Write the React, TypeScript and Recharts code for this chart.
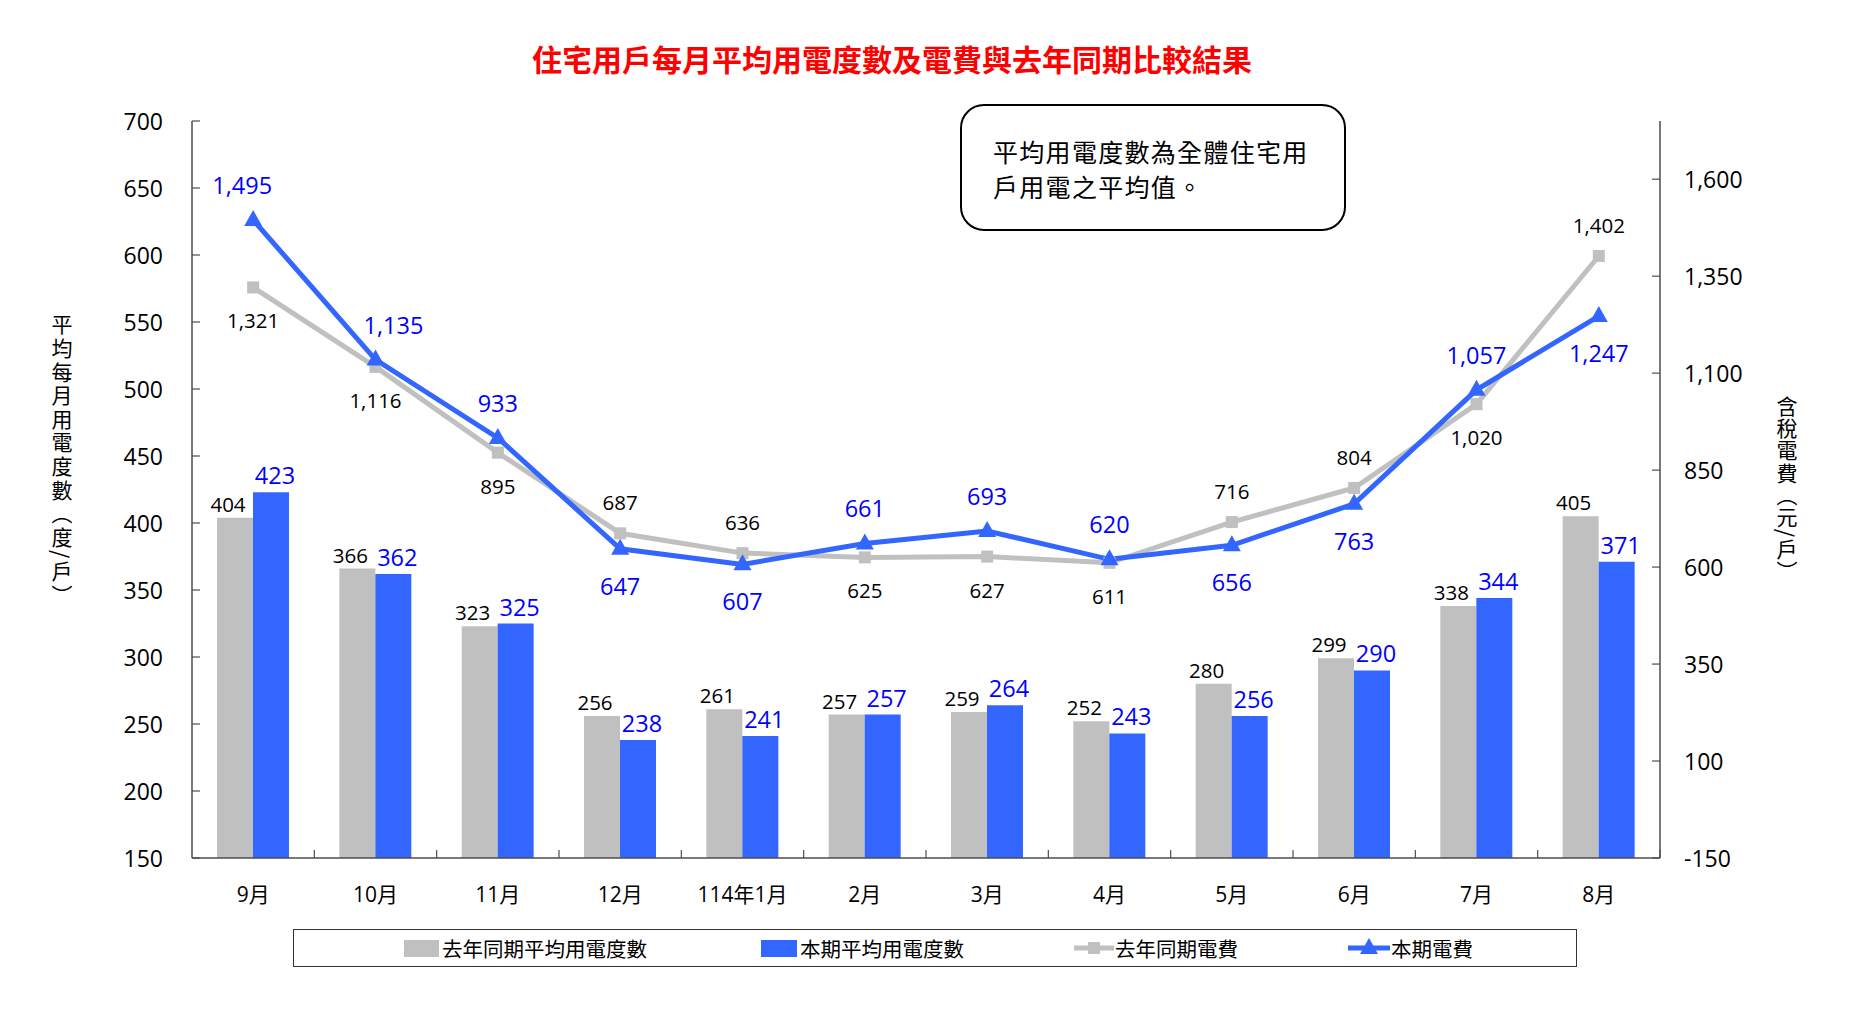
import React from 'react';
import { ComposedChart, Bar, Line, XAxis, YAxis, LabelList, Legend, Label } from 'recharts';

// ---------- data ----------
const months = ['9月', '10月', '11月', '12月', '114年1月', '2月', '3月', '4月', '5月', '6月', '7月', '8月'];
const lastYearKwh = [404, 366, 323, 256, 261, 257, 259, 252, 280, 299, 338, 405];
const thisYearKwh = [423, 362, 325, 238, 241, 257, 264, 243, 256, 290, 344, 371];
const lastYearFee = [1321, 1116, 895, 687, 636, 625, 627, 611, 716, 804, 1020, 1402];
const thisYearFee = [1495, 1135, 933, 647, 607, 661, 693, 620, 656, 763, 1057, 1247];
const leftTicks = [150, 200, 250, 300, 350, 400, 450, 500, 550, 600, 650, 700];
const rightTicks = [-150, 100, 350, 600, 850, 1100, 1350, 1600];
const leftDomain = [150, 700];
const rightDomain = [-150, 1750];

const seriesNames = ['去年同期平均用電度數', '本期平均用電度數', '去年同期電費', '本期電費'];
const titleText = '住宅用戶每月平均用電度數及電費與去年同期比較結果';
const noteLines = ['平均用電度數為全體住宅用', '戶用電之平均值。'];
const leftAxisTitle = '平均每月用電度數（度/戶）';
const rightAxisTitle = '含稅電費（元/戶）';

// label placement (style, not data)
const lastFeeLabelAbove = [false, false, false, true, true, false, false, false, true, true, false, true];
const thisFeeLabelAbove = [true, true, true, false, false, true, true, true, false, false, true, false];
const thisFeeLabelDx = [-11, 18, 0, 0, 0, 0, 0, 0, 0, 0, 0, 0];

const data = months.map((m, i) => ({
  month: m,
  lastKwh: lastYearKwh[i],
  thisKwh: thisYearKwh[i],
  lastFee: lastYearFee[i],
  thisFee: thisYearFee[i],
}));

// ---------- layout ----------
const W = 1860;
const H = 1023;
const PLOT_LEFT = 192;
const PLOT_RIGHT = 1660;
const PLOT_TOP = 121;
const MARGIN_LEFT = 40;
const MARGIN_RIGHT = 40;
const MARGIN_BOTTOM = 56;
const LEGEND_H = 38;
const XAXIS_H = 71;
const BAND = (PLOT_RIGHT - PLOT_LEFT) / months.length;

const FONT = '"Noto Sans CJK TC", "Noto Sans", sans-serif';
const NUM_FONT = '"Open Sans", "Noto Sans CJK TC", sans-serif';
const GREY = '#C0C0C0';
const BLUE = '#3366FF';
const BLUE_TEXT = '#0000FF';
const AXIS = '#4d4d4d';

const fmt = (v: number) => v.toLocaleString('en-US');

const LeftTick = (props: any) => {
  const { x, y, payload } = props;
  const ax = x + 29;
  return (
    <g>
      <line x1={ax} x2={ax + 8} y1={y} y2={y} stroke={AXIS} strokeWidth={1.2} />
      <text x={x} y={y} textAnchor="end" dominantBaseline="central" fontSize={23} fontFamily={NUM_FONT} fill="#000">
        {payload.value}
      </text>
    </g>
  );
};

const RightTick = (props: any) => {
  const { x, y, payload } = props;
  const ax = x - 24;
  return (
    <g>
      <line x1={ax} x2={ax - 8} y1={y} y2={y} stroke={AXIS} strokeWidth={1.2} />
      <text x={x} y={y} textAnchor="start" dominantBaseline="central" fontSize={23} fontFamily={NUM_FONT} fill="#000">
        {fmt(payload.value)}
      </text>
    </g>
  );
};

const BottomTick = (props: any) => {
  const { x, y, payload } = props;
  const ay = y - 36;
  const bx = x + BAND / 2;
  return (
    <g>
      <line x1={bx} x2={bx} y1={ay} y2={ay - 8} stroke={AXIS} strokeWidth={1.2} />
      <text x={x} y={y} textAnchor="middle" dominantBaseline="central" fontSize={21} fontFamily={NUM_FONT} fill="#000">
        {payload.value}
      </text>
    </g>
  );
};

const VerticalTitle = (text: string, dx: number, cy: number, spacing: number) => (props: any) => {
  const vb = props.viewBox || {};
  const cx = (vb.x || 0) + dx;
  return (
    <text
      x={cx}
      y={cy}
      textAnchor="middle"
      fontSize={21}
      fontFamily={FONT}
      fill="#000"
      letterSpacing={spacing}
      style={{ writingMode: 'vertical-rl' as any }}
    >
      {text}
    </text>
  );
};

const greyBarLabel = (props: any) => {
  const { x, y, width, value } = props;
  return (
    <text x={x + width / 2 - 7} y={y - 14} textAnchor="middle" dominantBaseline="central" fontSize={20.5} fontFamily={NUM_FONT} fill="#000">
      {fmt(value)}
    </text>
  );
};

const blueBarLabel = (props: any) => {
  const { x, y, width, value } = props;
  return (
    <text x={x + width / 2 + 4} y={y - 17} textAnchor="middle" dominantBaseline="central" fontSize={23.5} fontFamily={NUM_FONT} fill={BLUE_TEXT}>
      {fmt(value)}
    </text>
  );
};

const greyLineLabel = (props: any) => {
  const { x, y, value, index } = props;
  const above = lastFeeLabelAbove[index];
  return (
    <text x={x} y={above ? y - 31 : y + 33} textAnchor="middle" dominantBaseline="central" fontSize={20.5} fontFamily={NUM_FONT} fill="#000">
      {fmt(value)}
    </text>
  );
};

const blueLineLabel = (props: any) => {
  const { x, y, value, index } = props;
  const above = thisFeeLabelAbove[index];
  return (
    <text
      x={x + thisFeeLabelDx[index]}
      y={above ? y - 35 : y + 37}
      textAnchor="middle"
      dominantBaseline="central"
      fontSize={23.5}
      fontFamily={NUM_FONT}
      fill={BLUE_TEXT}
    >
      {fmt(value)}
    </text>
  );
};

const SquareDot = (props: any) => {
  const { cx, cy } = props;
  if (cx == null || cy == null) return null;
  return <rect x={cx - 6} y={cy - 6} width={12} height={12} fill={GREY} />;
};

const TriangleDot = (props: any) => {
  const { cx, cy } = props;
  if (cx == null || cy == null) return null;
  return <polygon points={`${cx},${cy - 10} ${cx - 9},${cy + 6} ${cx + 9},${cy + 6}`} fill={BLUE} />;
};

const LegendContent = () => {
  const textStyle: React.CSSProperties = {
    position: 'absolute',
    top: 0,
    height: LEGEND_H - 2,
    lineHeight: `${LEGEND_H - 2}px`,
    fontSize: 20.5,
    fontFamily: FONT,
    color: '#000',
    whiteSpace: 'nowrap',
  };
  return (
    <div
      style={{
        position: 'relative',
        width: 1284,
        height: LEGEND_H,
        boxSizing: 'border-box',
        border: '1px solid #333',
        background: '#fff',
      }}
    >
      <div style={{ position: 'absolute', left: 110, top: 10, width: 35, height: 17, background: GREY }} />
      <div style={{ ...textStyle, left: 148 }}>{seriesNames[0]}</div>
      <div style={{ position: 'absolute', left: 467, top: 10, width: 36, height: 17, background: BLUE }} />
      <div style={{ ...textStyle, left: 506 }}>{seriesNames[1]}</div>
      <svg style={{ position: 'absolute', left: 780, top: 0 }} width={40} height={36}>
        <line x1={0} x2={40} y1={18} y2={18} stroke={GREY} strokeWidth={5} />
        <rect x={14} y={12} width={12} height={12} fill={GREY} />
      </svg>
      <div style={{ ...textStyle, left: 821 }}>{seriesNames[2]}</div>
      <svg style={{ position: 'absolute', left: 1054, top: 0 }} width={42} height={36}>
        <line x1={0} x2={42} y1={18} y2={18} stroke={BLUE} strokeWidth={5} />
        <polygon points="21,8 12,24 30,24" fill={BLUE} />
      </svg>
      <div style={{ ...textStyle, left: 1097 }}>{seriesNames[3]}</div>
    </div>
  );
};

export default function App() {
  return (
    <div style={{ position: 'absolute', left: 0, top: 0, width: W, height: H, background: '#fff' }}>
      <div
        style={{
          position: 'absolute',
          left: 0,
          width: W - 76,
          top: 38,
          textAlign: 'center',
          fontSize: 30,
          fontWeight: 'bold',
          color: '#FF0000',
          fontFamily: FONT,
          lineHeight: '40px',
        }}
      >
        {titleText}
      </div>
      <ComposedChart
        width={W}
        height={H}
        data={data}
        margin={{ top: PLOT_TOP, left: MARGIN_LEFT, right: MARGIN_RIGHT, bottom: MARGIN_BOTTOM }}
        barGap={0}
      >
        <XAxis
          dataKey="month"
          xAxisId="x"
          height={XAXIS_H}
          tickSize={0}
          tickMargin={36}
          tickLine={false}
          axisLine={{ stroke: AXIS, strokeWidth: 1.5 }}
          tick={<BottomTick />}
          interval={0}
        />
        <YAxis
          yAxisId="left"
          orientation="left"
          width={PLOT_LEFT - MARGIN_LEFT}
          domain={leftDomain}
          ticks={leftTicks}
          tickSize={0}
          tickMargin={29}
          tickLine={false}
          axisLine={{ stroke: AXIS, strokeWidth: 1.5 }}
          tick={<LeftTick />}
          interval={0}
        >
          <Label content={VerticalTitle(leftAxisTitle, 22, 461, 2.6)} />
        </YAxis>
        <YAxis
          yAxisId="right"
          orientation="right"
          width={W - MARGIN_RIGHT - PLOT_RIGHT}
          domain={rightDomain}
          ticks={rightTicks}
          tickSize={0}
          tickMargin={24}
          tickLine={false}
          axisLine={{ stroke: AXIS, strokeWidth: 1.5 }}
          tick={<RightTick />}
          interval={0}
        >
          <Label content={VerticalTitle(rightAxisTitle, 127, 489, 1.2)} />
        </YAxis>
        <Legend
          verticalAlign="bottom"
          content={<LegendContent />}
          wrapperStyle={{ left: 293, width: 1284, bottom: MARGIN_BOTTOM, height: LEGEND_H }}
        />
        <Bar
          dataKey="lastKwh"
          name={seriesNames[0]}
          xAxisId="x"
          yAxisId="left"
          fill={GREY}
          barSize={36}
          isAnimationActive={false}
        >
          <LabelList dataKey="lastKwh" content={greyBarLabel} />
        </Bar>
        <Bar
          dataKey="thisKwh"
          name={seriesNames[1]}
          xAxisId="x"
          yAxisId="left"
          fill={BLUE}
          barSize={36}
          isAnimationActive={false}
        >
          <LabelList dataKey="thisKwh" content={blueBarLabel} />
        </Bar>
        <Line
          dataKey="lastFee"
          name={seriesNames[2]}
          xAxisId="x"
          yAxisId="right"
          stroke={GREY}
          strokeWidth={5}
          dot={<SquareDot />}
          activeDot={false}
          isAnimationActive={false}
        >
          <LabelList dataKey="lastFee" content={greyLineLabel} />
        </Line>
        <Line
          dataKey="thisFee"
          name={seriesNames[3]}
          xAxisId="x"
          yAxisId="right"
          stroke={BLUE}
          strokeWidth={5}
          dot={<TriangleDot />}
          activeDot={false}
          isAnimationActive={false}
        >
          <LabelList dataKey="thisFee" content={blueLineLabel} />
        </Line>
      </ComposedChart>
      <div
        style={{
          position: 'absolute',
          left: 960,
          top: 104,
          width: 386,
          height: 127,
          boxSizing: 'border-box',
          border: '2px solid #000',
          borderRadius: 24,
          background: '#fff',
          padding: '28px 0 0 31px',
          fontFamily: FONT,
          fontSize: 25,
          lineHeight: '35px',
          color: '#000',
          letterSpacing: 1.3,
        }}
      >
        <div>{noteLines[0]}</div>
        <div>{noteLines[1]}</div>
      </div>
    </div>
  );
}
